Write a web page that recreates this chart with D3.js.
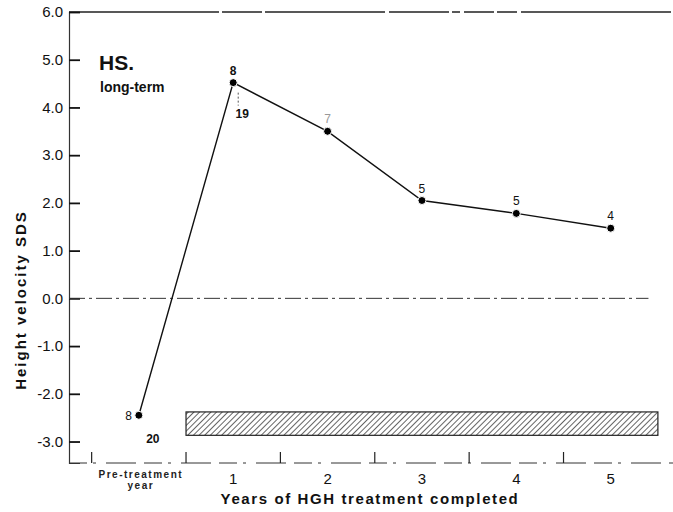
<!DOCTYPE html>
<html>
<head>
<meta charset="utf-8">
<script src="https://cdn.jsdelivr.net/npm/d3@7"></script>
<style>
  body { margin: 0; background: #fff; }
  svg { font-family: "Liberation Sans", Arial, sans-serif; }
</style>
</head>
<body>
<div id="chart"></div>
<script>
// data
const periods = [0, 1, 2, 3, 4, 5];
const sds = [-2.45, 4.52, 3.5, 2.05, 1.78, 1.47];
const nTop = ["8", "8", "7", "5", "5", "4"];
const nBottom = ["20", "19", "", "", "", ""];
const yTicks = [6, 5, 4, 3, 2, 1, 0, -1, -2, -3];
const xTickLabels = ["1", "2", "3", "4", "5"];
const xTickValues = [1, 2, 3, 4, 5];
const dividerTicks = [-0.5, 0.5, 1.5, 2.5, 3.5, 4.5];
const normalBand = { from: 0.5, to: 5.5, low: -2.87, high: -2.38 };

const width = 673, height = 512;
const svg = d3.select("#chart").append("svg")
  .attr("width", width).attr("height", height);

const x = d3.scaleLinear().domain([-0.74, 5.66]).range([69, 673]);
const y = d3.scaleLinear().domain([6, -3.45]).range([12, 463]);

// hatch pattern for the normal band
const defs = svg.append("defs");
const pat = defs.append("pattern")
  .attr("id", "hatch")
  .attr("patternUnits", "userSpaceOnUse")
  .attr("width", 4).attr("height", 4)
  .attr("patternTransform", "rotate(45)");
pat.append("line")
  .attr("x1", 0).attr("y1", 0).attr("x2", 0).attr("y2", 4)
  .attr("stroke", "#222").attr("stroke-width", 1.4);

// frame lines
svg.append("line")
  .attr("x1", x(-0.74)).attr("x2", 673)
  .attr("y1", y(6)).attr("y2", y(6))
  .attr("stroke", "#222").attr("stroke-width", 1.6)
  .attr("stroke-dasharray", "150,3,40,3,120,4,60,3,8,4,30,3,20,4");
svg.append("line")
  .attr("x1", x(-0.74)).attr("x2", 673)
  .attr("y1", y(-3.45)).attr("y2", y(-3.45))
  .attr("stroke", "#333").attr("stroke-width", 1)
  .attr("stroke-dasharray", "18,6,3,10,30,8");

// y axis
const fmt = d => d.toFixed(1);
const yAxis = svg.append("g")
  .attr("transform", `translate(${x(-0.74)},0)`)
  .call(d3.axisRight(y).tickValues(yTicks).tickSize(11).tickFormat(fmt));
yAxis.select(".domain").attr("stroke", "#333").attr("stroke-width", 1.2);
yAxis.selectAll(".tick line").attr("stroke", "#111").attr("stroke-width", 1.8);
yAxis.selectAll(".tick text")
  .attr("x", -6).attr("text-anchor", "end")
  .attr("font-size", 15).attr("fill", "#111");

// zero reference line
svg.append("line")
  .attr("x1", x(-0.74)).attr("x2", x(5.4))
  .attr("y1", y(0)).attr("y2", y(0))
  .attr("stroke", "#333").attr("stroke-width", 1)
  .attr("stroke-dasharray", "16,4,3,4");

// x axis divider ticks
svg.append("g").selectAll("line")
  .data(dividerTicks)
  .join("line")
  .attr("x1", d => x(d)).attr("x2", d => x(d))
  .attr("y1", y(-3.45)).attr("y2", y(-3.45) - 11)
  .attr("stroke", "#222").attr("stroke-width", 1.2);

// x tick labels
svg.append("g").selectAll("text")
  .data(xTickValues)
  .join("text")
  .attr("x", d => x(d))
  .attr("y", 484)
  .attr("text-anchor", "middle")
  .attr("font-size", 15)
  .attr("fill", "#111")
  .text((d, i) => xTickLabels[i]);

const pre = svg.append("text")
  .attr("x", x(0) + 2).attr("y", 478)
  .attr("text-anchor", "middle")
  .attr("font-size", 10).attr("font-weight", "bold")
  .attr("letter-spacing", 1.5).attr("fill", "#222");
pre.append("tspan").attr("x", x(0) + 2).text("Pre-treatment");
pre.append("tspan").attr("x", x(0) + 2).attr("dy", 11).text("year");

// normal range band
svg.append("rect")
  .attr("x", x(normalBand.from))
  .attr("y", y(normalBand.high))
  .attr("width", x(normalBand.to) - x(normalBand.from))
  .attr("height", y(normalBand.low) - y(normalBand.high))
  .attr("fill", "url(#hatch)")
  .attr("stroke", "#222").attr("stroke-width", 1.2);

// data line + points
const pts = periods.map((p, i) => ({ p, v: sds[i], top: nTop[i], bot: nBottom[i] }));
svg.append("path")
  .datum(pts)
  .attr("fill", "none")
  .attr("stroke", "#111").attr("stroke-width", 1.4)
  .attr("d", d3.line().x(d => x(d.p)).y(d => y(d.v)));

svg.append("g").selectAll("circle")
  .data(pts)
  .join("circle")
  .attr("cx", d => x(d.p)).attr("cy", d => y(d.v))
  .attr("r", 4).attr("fill", "#000")
  .attr("stroke", "#fff").attr("stroke-width", 1);

// n labels
svg.append("g").selectAll("text")
  .data(pts)
  .join("text")
  .attr("x", d => d.p === 0 ? x(d.p) - 7 : x(d.p))
  .attr("y", d => d.p === 0 ? y(d.v) + 5 : y(d.v) - 8)
  .attr("text-anchor", d => d.p === 0 ? "end" : "middle")
  .attr("font-size", 12).attr("font-weight", d => d.p === 1 ? "bold" : "normal")
  .attr("fill", d => d.p === 2 ? "#999" : "#111")
  .text(d => d.top);

svg.append("g").selectAll("text")
  .data(pts.filter(d => d.bot))
  .join("text")
  .attr("x", d => d.p === 0 ? x(d.p) + 14 : x(d.p) + 9)
  .attr("y", d => d.p === 0 ? y(-3) + 1 : y(d.v) + 35)
  .attr("text-anchor", "middle")
  .attr("font-size", 12).attr("font-weight", "bold")
  .attr("fill", "#111")
  .text(d => d.bot);

// dotted error hint below year 1
svg.append("line")
  .attr("x1", x(1) + 5).attr("x2", x(1) + 5)
  .attr("y1", y(sds[1]) + 10).attr("y2", y(sds[1]) + 23)
  .attr("stroke", "#555").attr("stroke-width", 1)
  .attr("stroke-dasharray", "2,2");

// titles
svg.append("text")
  .attr("x", 99).attr("y", 70)
  .attr("font-size", 21).attr("font-weight", "bold")
  .attr("fill", "#111")
  .text("HS.");
svg.append("text")
  .attr("x", 100).attr("y", 92)
  .attr("font-size", 14).attr("font-weight", "bold")
  .attr("fill", "#111")
  .text("long-term");

svg.append("text")
  .attr("transform", "translate(26,300) rotate(-90)")
  .attr("text-anchor", "middle")
  .attr("font-size", 15).attr("font-weight", "bold")
  .attr("letter-spacing", 2).attr("fill", "#111")
  .text("Height velocity SDS");

svg.append("text")
  .attr("x", 370).attr("y", 504)
  .attr("text-anchor", "middle")
  .attr("font-size", 15).attr("font-weight", "bold")
  .attr("letter-spacing", 1.6).attr("fill", "#111")
  .text("Years of HGH treatment completed");
</script>
</body>
</html>
